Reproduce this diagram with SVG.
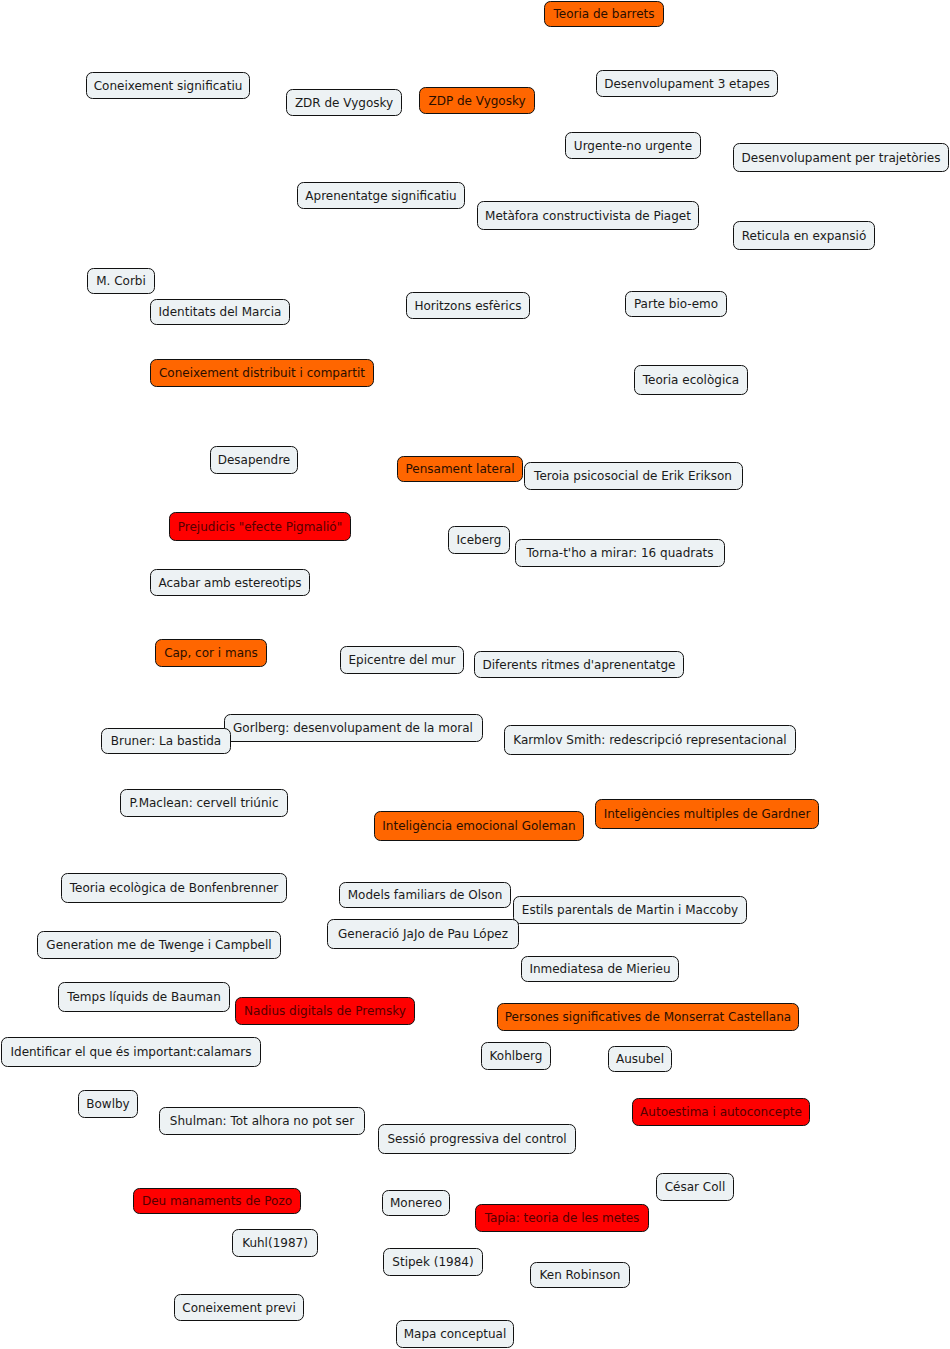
<svg xmlns="http://www.w3.org/2000/svg" width="950" height="1349" viewBox="0 0 950 1349">
<style>
g rect{stroke:#111;stroke-width:1;}
.n rect{fill:#edf2f4;}
.o rect{fill:#ff6600;}
.r rect{fill:#ff0000;}
text{font-family:"DejaVu Sans",Verdana,sans-serif;font-size:12px;text-anchor:middle;}
.n text{fill:#1a1a1a;}
.o text{fill:#2a0e00;}
.r text{fill:#550000;}
</style>
<rect x="0" y="0" width="950" height="1349" fill="#fff"/>
<g id="connectors"></g>
<g id="n1" class="o"><rect x="544.5" y="1.5" width="119" height="25" rx="6"/><text x="604" y="18">Teoria de barrets</text></g>
<g id="n2" class="n"><rect x="86.5" y="72.5" width="163" height="26" rx="6"/><text x="168" y="89.5">Coneixement significatiu</text></g>
<g id="n3" class="n"><rect x="286.5" y="89.5" width="115" height="26" rx="6"/><text x="344" y="106.5">ZDR de Vygosky</text></g>
<g id="n4" class="o"><rect x="419.5" y="87.5" width="115" height="26" rx="6"/><text x="477" y="104.5">ZDP de Vygosky</text></g>
<g id="n5" class="n"><rect x="596.5" y="70.5" width="181" height="26" rx="6"/><text x="687" y="87.5">Desenvolupament 3 etapes</text></g>
<g id="n6" class="n"><rect x="565.5" y="132.5" width="135" height="26" rx="6"/><text x="633" y="149.5">Urgente-no urgente</text></g>
<g id="n7" class="n"><rect x="733.5" y="143.5" width="215" height="28" rx="6"/><text x="841" y="161.5">Desenvolupament per trajetòries</text></g>
<g id="n8" class="n"><rect x="297.5" y="182.5" width="167" height="26" rx="6"/><text x="381" y="199.5">Aprenentatge significatiu</text></g>
<g id="n9" class="n"><rect x="477.5" y="201.5" width="221" height="28" rx="6"/><text x="588" y="219.5">Metàfora constructivista de Piaget</text></g>
<g id="n10" class="n"><rect x="733.5" y="221.5" width="141" height="28" rx="6"/><text x="804" y="239.5">Reticula en expansió</text></g>
<g id="n11" class="n"><rect x="87.5" y="268.5" width="67" height="25" rx="6"/><text x="121" y="285">M. Corbi</text></g>
<g id="n12" class="n"><rect x="150.5" y="299.5" width="139" height="25" rx="6"/><text x="220" y="316">Identitats del Marcia</text></g>
<g id="n13" class="n"><rect x="406.5" y="292.5" width="123" height="26" rx="6"/><text x="468" y="309.5">Horitzons esfèrics</text></g>
<g id="n14" class="n"><rect x="625.5" y="291.5" width="101" height="25" rx="6"/><text x="676" y="308">Parte bio-emo</text></g>
<g id="n15" class="o"><rect x="150.5" y="359.5" width="223" height="27" rx="6"/><text x="262" y="377">Coneixement distribuit i compartit</text></g>
<g id="n16" class="n"><rect x="634.5" y="365.5" width="113" height="29" rx="6"/><text x="691" y="384">Teoria ecològica</text></g>
<g id="n17" class="n"><rect x="210.5" y="446.5" width="87" height="27" rx="6"/><text x="254" y="464">Desapendre</text></g>
<g id="n18" class="o"><rect x="397.5" y="456.5" width="125" height="25" rx="6"/><text x="460" y="473">Pensament lateral</text></g>
<g id="n19" class="n"><rect x="524.5" y="462.5" width="218" height="27" rx="6"/><text x="633" y="480">Teroia psicosocial de Erik Erikson</text></g>
<g id="n20" class="r"><rect x="169.5" y="512.5" width="181" height="28" rx="6"/><text x="260" y="530.5">Prejudicis "efecte Pigmalió"</text></g>
<g id="n21" class="n"><rect x="448.5" y="526.5" width="61" height="27" rx="6"/><text x="479" y="544">Iceberg</text></g>
<g id="n22" class="n"><rect x="515.5" y="539.5" width="209" height="27" rx="6"/><text x="620" y="557">Torna-t'ho a mirar: 16 quadrats</text></g>
<g id="n23" class="n"><rect x="150.5" y="569.5" width="159" height="26" rx="6"/><text x="230" y="586.5">Acabar amb estereotips</text></g>
<g id="n24" class="o"><rect x="155.5" y="639.5" width="111" height="27" rx="6"/><text x="211" y="657">Cap, cor i mans</text></g>
<g id="n25" class="n"><rect x="340.5" y="646.5" width="123" height="27" rx="6"/><text x="402" y="664">Epicentre del mur</text></g>
<g id="n26" class="n"><rect x="474.5" y="651.5" width="209" height="26" rx="6"/><text x="579" y="668.5">Diferents ritmes d'aprenentatge</text></g>
<g id="n27" class="n"><rect x="224.5" y="714.5" width="258" height="27" rx="6"/><text x="353" y="732">Gorlberg: desenvolupament de la moral</text></g>
<g id="n28" class="n"><rect x="101.5" y="728.5" width="129" height="25" rx="6"/><text x="166" y="745">Bruner: La bastida</text></g>
<g id="n29" class="n"><rect x="504.5" y="725.5" width="291" height="29" rx="6"/><text x="650" y="744">Karmlov Smith: redescripció representacional</text></g>
<g id="n30" class="n"><rect x="120.5" y="789.5" width="167" height="27" rx="6"/><text x="204" y="807">P.Maclean: cervell triúnic</text></g>
<g id="n31" class="o"><rect x="374.5" y="811.5" width="209" height="29" rx="6"/><text x="479" y="830">Inteligència emocional Goleman</text></g>
<g id="n32" class="o"><rect x="595.5" y="799.5" width="223" height="29" rx="6"/><text x="707" y="818">Inteligències multiples de Gardner</text></g>
<g id="n33" class="n"><rect x="61.5" y="873.5" width="225" height="29" rx="6"/><text x="174" y="892">Teoria ecològica de Bonfenbrenner</text></g>
<g id="n34" class="n"><rect x="339.5" y="882.5" width="171" height="25" rx="6"/><text x="425" y="899">Models familiars de Olson</text></g>
<g id="n35" class="n"><rect x="513.5" y="896.5" width="233" height="27" rx="6"/><text x="630" y="914">Estils parentals de Martin i Maccoby</text></g>
<g id="n36" class="n"><rect x="327.5" y="919.5" width="191" height="29" rx="6"/><text x="423" y="938">Generació JaJo de Pau López</text></g>
<g id="n37" class="n"><rect x="37.5" y="931.5" width="243" height="27" rx="6"/><text x="159" y="949">Generation me de Twenge i Campbell</text></g>
<g id="n38" class="n"><rect x="521.5" y="956.5" width="157" height="25" rx="6"/><text x="600" y="973">Inmediatesa de Mierieu</text></g>
<g id="n39" class="n"><rect x="58.5" y="982.5" width="171" height="29" rx="6"/><text x="144" y="1001">Temps líquids de Bauman</text></g>
<g id="n40" class="r"><rect x="235.5" y="997.5" width="179" height="27" rx="6"/><text x="325" y="1015">Nadius digitals de Premsky</text></g>
<g id="n41" class="o"><rect x="497.5" y="1003.5" width="301" height="27" rx="6"/><text x="648" y="1021">Persones significatives de Monserrat Castellana</text></g>
<g id="n42" class="n"><rect x="1.5" y="1037.5" width="259" height="29" rx="6"/><text x="131" y="1056">Identificar el que és important:calamars</text></g>
<g id="n43" class="n"><rect x="481.5" y="1042.5" width="69" height="27" rx="6"/><text x="516" y="1060">Kohlberg</text></g>
<g id="n44" class="n"><rect x="608.5" y="1046.5" width="63" height="25" rx="6"/><text x="640" y="1063">Ausubel</text></g>
<g id="n45" class="n"><rect x="78.5" y="1090.5" width="59" height="27" rx="6"/><text x="108" y="1108">Bowlby</text></g>
<g id="n46" class="n"><rect x="159.5" y="1107.5" width="205" height="27" rx="6"/><text x="262" y="1125">Shulman: Tot alhora no pot ser</text></g>
<g id="n47" class="n"><rect x="378.5" y="1124.5" width="197" height="29" rx="6"/><text x="477" y="1143">Sessió progressiva del control</text></g>
<g id="n48" class="r"><rect x="632.5" y="1098.5" width="177" height="27" rx="6"/><text x="721" y="1116">Autoestima i autoconcepte</text></g>
<g id="n49" class="n"><rect x="656.5" y="1173.5" width="77" height="27" rx="6"/><text x="695" y="1191">César Coll</text></g>
<g id="n50" class="r"><rect x="133.5" y="1188.5" width="167" height="25" rx="6"/><text x="217" y="1205">Deu manaments de Pozo</text></g>
<g id="n51" class="n"><rect x="382.5" y="1190.5" width="67" height="25" rx="6"/><text x="416" y="1207">Monereo</text></g>
<g id="n52" class="r"><rect x="475.5" y="1204.5" width="173" height="27" rx="6"/><text x="562" y="1222">Tapia: teoria de les metes</text></g>
<g id="n53" class="n"><rect x="232.5" y="1229.5" width="85" height="27" rx="6"/><text x="275" y="1247">Kuhl(1987)</text></g>
<g id="n54" class="n"><rect x="383.5" y="1248.5" width="99" height="27" rx="6"/><text x="433" y="1266">Stipek (1984)</text></g>
<g id="n55" class="n"><rect x="530.5" y="1262.5" width="99" height="25" rx="6"/><text x="580" y="1279">Ken Robinson</text></g>
<g id="n56" class="n"><rect x="174.5" y="1294.5" width="129" height="26" rx="6"/><text x="239" y="1311.5">Coneixement previ</text></g>
<g id="n57" class="n"><rect x="396.5" y="1320.5" width="117" height="27" rx="6"/><text x="455" y="1338">Mapa conceptual</text></g>
</svg>
